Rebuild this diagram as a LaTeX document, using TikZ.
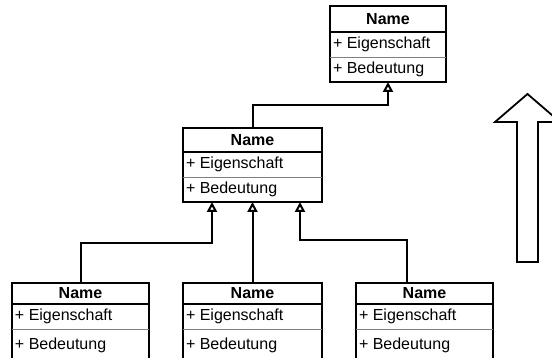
\documentclass[tikz,border=0pt]{standalone}
\usepackage{fontspec}
\setmainfont{Liberation Sans}
\usepackage{tikz}
\usetikzlibrary{arrows.meta, positioning, calc, fit}

\begin{document}
\begin{tikzpicture}[
        x=1pt, y=-1pt,
        head/.style={rectangle, anchor=north, minimum height=25pt, inner sep=0pt, outer sep=0pt, font=\fontsize{16}{19}\selectfont\bfseries},
        row/.style={rectangle, minimum height=25pt, inner xsep=3pt, inner ysep=0pt, outer sep=0pt, font=\fontsize{16}{19}\selectfont},
        box/.style={rectangle, draw=black, inner sep=0pt, outer sep=0pt},
        hrule/.style={draw=black, line width=2.2pt},
        grule/.style={draw=gray, line width=0.9pt},
        inherit/.style={line width=2pt, -{Triangle[open, length=10pt, width=10pt]}},
        hollow/.style={draw=black, line width=1.8pt, line join=miter}
    ]
        \useasboundingbox (0,0) rectangle (552,358);
        \clip (0,0) rectangle (552,358);

        % Top class
        \node (tophead) [head, minimum width=116pt, minimum height=26pt] at (388,6) {Name};
        \node (topattr) [row, below right=0pt of tophead.south west] {+ Eigenschaft};
        \node (topop) [row, below right=0pt of topattr.south west] {+ Bedeutung};

        % Middle class
        \node (midhead) [head, minimum width=139pt, minimum height=24pt] at (252.5,128) {Name};
        \node (midattr) [row, below right=0pt of midhead.south west] {+ Eigenschaft};
        \node (midop) [row, below right=0pt of midattr.south west] {+ Bedeutung};

        % Bottom classes
        \node (lbhead) [head, minimum width=137pt, minimum height=21pt] at (80.5,283) {Name};
        \node (lbattr) [row, below right=0pt of lbhead.south west] {+ Eigenschaft};
        \node (lbop) [row, minimum height=32pt, below right=0pt of lbattr.south west] {+ Bedeutung};

        \node (mbhead) [head, minimum width=139pt, minimum height=21pt] at (252.5,283) {Name};
        \node (mbattr) [row, below right=0pt of mbhead.south west] {+ Eigenschaft};
        \node (mbop) [row, minimum height=32pt, below right=0pt of mbattr.south west] {+ Bedeutung};

        \node (rbhead) [head, minimum width=137pt, minimum height=21pt] at (424.5,283) {Name};
        \node (rbattr) [row, below right=0pt of rbhead.south west] {+ Eigenschaft};
        \node (rbop) [row, minimum height=32pt, below right=0pt of rbattr.south west] {+ Bedeutung};

        % Outlines and separators
        \foreach \b/\w in {top/2.8, mid/2.8, lb/2, mb/2, rb/2} {
            \node (\b) [box, line width=\w pt, fit=(\b head)(\b op)] {};
            \draw [hrule] (\b head.south west) -- (\b head.south east);
            \draw [grule] (\b attr.south west) -- (\b attr.south west -| \b.east);
        }

        % Inheritance
        \draw [inherit] (mid.north) -- ++(0,-23) -| (top.south);
        \draw [inherit] (lb.north) -- ++(0,-40) -| ($(mid.south)+(-40.5,0)$);
        \draw [inherit] (mb.north) -- (mid.south);
        \draw [inherit] ($(rb.north)+(-17.5,0)$) -- ++(0,-43) -| ($(mid.south)+(47.5,0)$);

        % Big arrow
        \draw [hollow] (517,262) -- (517,122) -- (495,122) -- (527.5,94) -- (560,122) -- (538,122) -- (538,262) -- cycle;
    \end{tikzpicture}
\end{document}
